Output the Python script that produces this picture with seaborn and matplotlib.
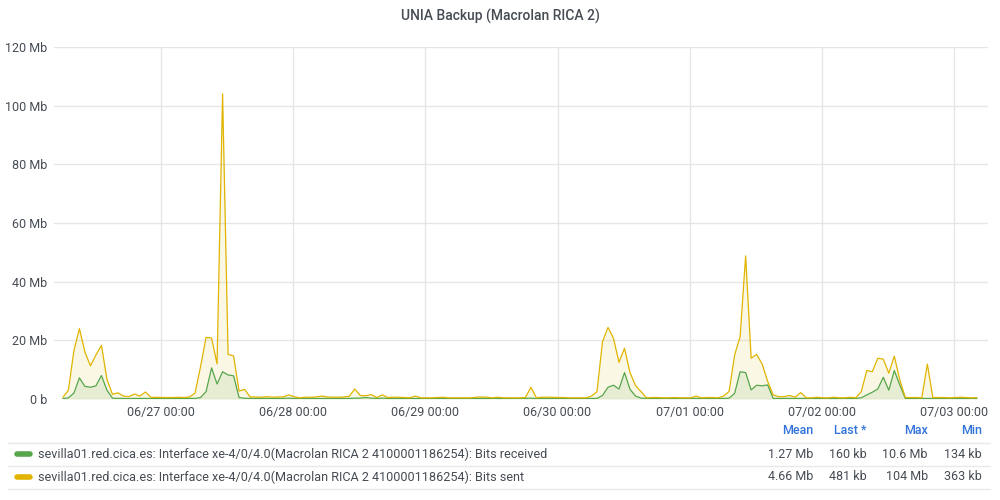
import matplotlib
matplotlib.use("Agg")
import matplotlib.pyplot as plt
import matplotlib.dates as mdates
from matplotlib.lines import Line2D
import seaborn as sns
import pandas as pd

# hourly samples, Mb/s
start = "2020-06-26 06:10"
received = [
    0.15, 0.4, 2.0, 7.2, 4.3, 4.0, 4.5, 8.0, 3.0, 0.3,
    0.2, 0.2, 0.15, 0.2, 0.2, 0.2, 0.15, 0.2, 0.2, 0.2,
    0.2, 0.2, 0.2, 0.2, 0.2, 0.5, 2.5, 10.6, 5.1, 9.3,
    8.2, 7.9, 0.5, 0.25, 0.2, 0.2, 0.2, 0.2, 0.2, 0.2,
    0.2, 0.3, 0.2, 0.15, 0.2, 0.2, 0.2, 0.2, 0.2, 0.2,
    0.2, 0.2, 0.2, 0.3, 0.3, 0.5, 0.3, 0.2, 0.3, 0.2,
    0.2, 0.2, 0.2, 0.15, 0.2, 0.15, 0.15, 0.15, 0.2, 0.2,
    0.15, 0.15, 0.15, 0.15, 0.15, 0.2, 0.2, 0.2, 0.15, 0.2,
    0.15, 0.15, 0.15, 0.134, 0.2, 0.3, 0.15, 0.2, 0.2, 0.2,
    0.2, 0.2, 0.15, 0.15, 0.15, 0.15, 0.2, 0.2, 1.2, 4.0,
    4.7, 3.4, 9.0, 3.3, 1.0, 0.3, 0.2, 0.2, 0.2, 0.2,
    0.2, 0.2, 0.2, 0.2, 0.2, 0.2, 0.15, 0.2, 0.2, 0.2,
    0.2, 0.3, 1.9, 9.3, 9.0, 3.1, 4.7, 4.5, 4.8, 0.2,
    0.2, 0.2, 0.2, 0.2, 0.2, 0.2, 0.2, 0.2, 0.2, 0.2,
    0.2, 0.2, 0.2, 0.2, 0.2, 0.4, 1.4, 2.3, 3.4, 7.4,
    3.0, 9.7, 4.8, 0.2, 0.2, 0.2, 0.2, 0.2, 0.2, 0.2,
    0.2, 0.2, 0.2, 0.2, 0.2, 0.2, 0.16,
]
sent = [
    0.6, 3.0, 16.5, 24.0, 16.0, 11.3, 15.0, 18.3, 6.7, 1.6,
    2.1, 1.0, 0.8, 1.7, 1.0, 2.4, 0.5, 0.6, 0.5, 0.5,
    0.5, 0.6, 0.5, 0.7, 2.0, 11.0, 21.0, 20.8, 12.0, 104.0,
    15.2, 14.7, 2.7, 3.3, 0.7, 0.7, 0.6, 0.8, 0.6, 0.7,
    0.7, 1.4, 0.8, 0.4, 0.6, 0.6, 0.7, 1.0, 0.7, 0.6,
    0.6, 0.7, 0.9, 3.4, 1.2, 1.1, 1.5, 0.5, 1.4, 0.5,
    0.6, 0.6, 0.5, 0.4, 1.0, 0.4, 0.4, 0.4, 0.5, 0.6,
    0.4, 0.4, 0.4, 0.4, 0.4, 0.6, 0.7, 0.6, 0.4, 0.6,
    0.4, 0.4, 0.4, 0.4, 0.5, 4.0, 0.4, 0.6, 0.6, 0.6,
    0.5, 0.5, 0.4, 0.4, 0.4, 0.4, 1.0, 2.5, 19.5, 24.4,
    20.7, 12.5, 17.3, 9.0, 4.6, 2.5, 0.4, 0.5, 0.5, 0.4,
    0.4, 0.5, 0.4, 0.4, 0.4, 1.0, 0.4, 0.5, 0.5, 0.4,
    1.0, 2.6, 15.0, 21.3, 48.8, 13.9, 15.2, 11.9, 6.0, 1.4,
    0.8, 0.8, 1.2, 0.6, 2.2, 0.4, 0.4, 0.6, 0.4, 0.4,
    0.6, 0.4, 0.4, 0.6, 0.4, 2.5, 9.7, 9.3, 13.9, 13.6,
    8.8, 14.6, 6.5, 0.5, 0.5, 0.5, 0.4, 11.9, 0.5, 0.5,
    0.5, 0.4, 0.5, 0.6, 0.5, 0.4, 0.48,
]
series_names = [
    "sevilla01.red.cica.es: Interface xe-4/0/4.0(Macrolan RICA 2 4100001186254): Bits received",
    "sevilla01.red.cica.es: Interface xe-4/0/4.0(Macrolan RICA 2 4100001186254): Bits sent",
]
stat_headers = ["Mean", "Last *", "Max", "Min"]
stats = [
    ["1.27 Mb", "160 kb", "10.6 Mb", "134 kb"],
    ["4.66 Mb", "481 kb", "104 Mb", "363 kb"],
]
y_ticks = [0, 20, 40, 60, 80, 100, 120]
y_labels = ["0 b", "20 Mb", "40 Mb", "60 Mb", "80 Mb", "100 Mb", "120 Mb"]

GREEN = "#56a64b"
YELLOW = "#e0b400"
TEXT = "#464c54"
BLUE = "#3274d9"
GRID = "#e6e6e6"

sns.set_theme(style="white")
plt.rcParams["font.family"] = ["Roboto", "DejaVu Sans"]

times = pd.date_range(start, periods=len(sent), freq="h")
df = pd.DataFrame({"time": times, "received": received, "sent": sent})

fig = plt.figure(figsize=(10, 5), dpi=100)
ax = fig.add_axes([0.054, 0.202, 0.934, 0.704])

ax.fill_between(df["time"], df["sent"], color=YELLOW, alpha=0.1, lw=0)
ax.fill_between(df["time"], df["received"], color=GREEN, alpha=0.12, lw=0)
sns.lineplot(data=df, x="time", y="received", color=GREEN, lw=0.9, ax=ax)
sns.lineplot(data=df, x="time", y="sent", color=YELLOW, lw=0.9, ax=ax)

ax.set_ylim(0, 120)
ax.set_xlim(pd.Timestamp("2020-06-26 04:33"), pd.Timestamp("2020-07-03 06:11"))
ax.set_yticks(y_ticks)
ax.set_yticklabels(y_labels)
ax.xaxis.set_major_locator(mdates.DayLocator())
ax.xaxis.set_major_formatter(mdates.DateFormatter("%m/%d %H:%M"))
ax.tick_params(length=0, labelsize=9, colors=TEXT)
ax.tick_params(axis="x", pad=5)
ax.tick_params(axis="y", pad=5)
ax.grid(True, color=GRID, lw=1)
ax.set_axisbelow(True)
ax.set_xlabel("")
ax.set_ylabel("")
sns.despine(ax=ax, left=True, bottom=True)

fig.text(0.5, 0.967, "UNIA Backup (Macrolan RICA 2)", ha="center", va="center",
         fontsize=10, fontweight="medium", color=TEXT)

# legend table
col_x = [0.813, 0.867, 0.928, 0.982]
for x, h in zip(col_x, stat_headers):
    fig.text(x, 1 - 431 / 500, h, ha="right", va="center", fontsize=9,
             fontweight="medium", color=BLUE)
for yy in [443, 466, 489]:
    fig.add_artist(Line2D([0.008, 0.990], [1 - yy / 500] * 2, color="#e9e9e9", lw=1))
row_y = [454, 477]
for ry, name, vals, c in zip(row_y, series_names, stats, [GREEN, YELLOW]):
    y = 1 - ry / 500
    fig.add_artist(Line2D([0.017, 0.030], [y, y], color=c, lw=4))
    fig.text(0.038, y, name, ha="left", va="center", fontsize=9.1, color=TEXT)
    for x, v in zip(col_x, vals):
        fig.text(x, y, v, ha="right", va="center", fontsize=9, color=TEXT)

fig.savefig("out.png", dpi=100)
